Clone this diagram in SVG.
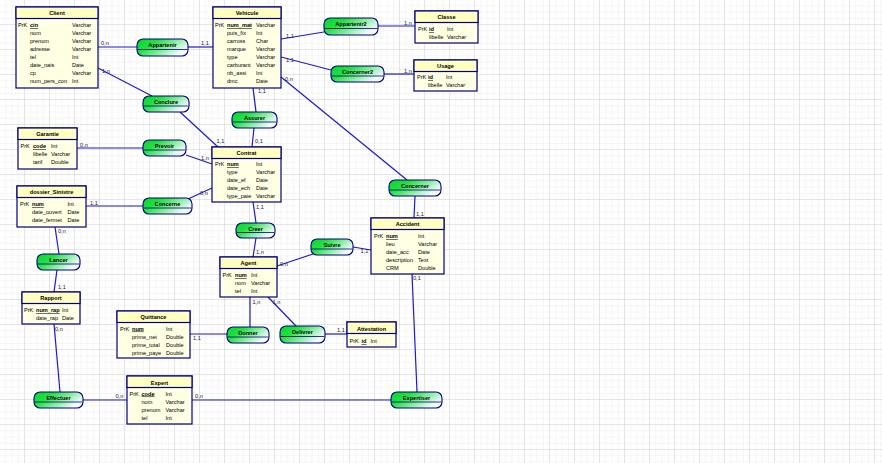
<svg xmlns="http://www.w3.org/2000/svg" width="882" height="463" viewBox="0 0 882 463">
<defs>
<pattern id="gmin" width="6.25" height="6.25" patternUnits="userSpaceOnUse">
<path d="M6.25 0V6.25M0 6.25H6.25" fill="none" stroke="#e6e6e6" stroke-width="0.8"/>
</pattern>
<pattern id="gmaj" width="25" height="25" patternUnits="userSpaceOnUse">
<path d="M25 0V25M0 25H25" fill="none" stroke="#cccccc" stroke-width="0.8"/>
</pattern>
<linearGradient id="ag" x1="0" y1="0" x2="1" y2="0.5">
<stop offset="0" stop-color="#00d82a"/>
<stop offset="0.35" stop-color="#22e040"/>
<stop offset="1" stop-color="#f4fbff"/>
</linearGradient>
<style>
.ent{fill:#ffffe4;stroke:#000080;stroke-width:1.2}
.hd{fill:#ffffc0;stroke:#000080;stroke-width:1.2}
.asc{fill:url(#ag);stroke:#000080;stroke-width:1.1}
.dv{stroke:#000080;stroke-width:0.8}
.cn line{stroke:#1a1ad0;stroke-width:1.2}
text{font-family:"Liberation Sans",Arial,sans-serif;fill:#000}
.et{font-size:5.6px;font-weight:bold;text-anchor:middle}
.an{font-size:5.6px;font-weight:bold;text-anchor:middle}
.at{font-size:5.6px}
.pk{font-size:5.6px;text-decoration:underline;font-weight:bold}
.cd{font-size:5.6px;fill:#222}
</style>
</defs>
<rect width="882" height="463" fill="#fff"/>
<rect width="882" height="463" fill="url(#gmin)"/>
<rect width="882" height="463" fill="url(#gmaj)"/>

<g id="connectors" class="cn">
<line x1="98" y1="47" x2="137" y2="47"/>
<line x1="188" y1="47" x2="213" y2="47"/>
<line x1="98" y1="68" x2="152" y2="96"/>
<line x1="180" y1="112" x2="218" y2="147"/>
<line x1="253" y1="88" x2="256" y2="112"/>
<line x1="254" y1="128" x2="252" y2="147"/>
<line x1="281" y1="39" x2="324" y2="32"/>
<line x1="378" y1="26" x2="415" y2="26"/>
<line x1="281" y1="57" x2="331" y2="70"/>
<line x1="384" y1="74" x2="414" y2="74"/>
<line x1="281" y1="77" x2="407" y2="180"/>
<line x1="415" y1="196" x2="414" y2="218"/>
<line x1="77" y1="148" x2="143" y2="148"/>
<line x1="186" y1="155" x2="212" y2="164"/>
<line x1="86" y1="206" x2="143" y2="206"/>
<line x1="188" y1="199" x2="212" y2="188"/>
<line x1="253" y1="202" x2="256" y2="223"/>
<line x1="256" y1="238" x2="253" y2="257"/>
<line x1="55" y1="227" x2="59" y2="254"/>
<line x1="57" y1="270" x2="54" y2="292"/>
<line x1="54" y1="324" x2="60" y2="392"/>
<line x1="83" y1="400" x2="127" y2="400"/>
<line x1="192" y1="400" x2="391" y2="400"/>
<line x1="417" y1="392" x2="412" y2="274"/>
<line x1="353" y1="247" x2="371" y2="250"/>
<line x1="313" y1="254" x2="277" y2="266"/>
<line x1="250" y1="297" x2="250" y2="327"/>
<line x1="268" y1="297" x2="296" y2="326"/>
<line x1="190" y1="334" x2="227" y2="334"/>
<line x1="325" y1="334" x2="347" y2="334"/>
</g>

<g id="cardinalities">
<text class="cd" x="101" y="45">0,n</text>
<text class="cd" x="201" y="45">1,1</text>
<text class="cd" x="102" y="73">1,n</text>
<text class="cd" x="286" y="38">1,1</text>
<text class="cd" x="404" y="25">1,n</text>
<text class="cd" x="286" y="61.5">1,1</text>
<text class="cd" x="404" y="73">1,n</text>
<text class="cd" x="285" y="81">0,n</text>
<text class="cd" x="258" y="93">1,1</text>
<text class="cd" x="255" y="143">0,1</text>
<text class="cd" x="216.5" y="142.5">1,1</text>
<text class="cd" x="80" y="146.5">0,n</text>
<text class="cd" x="201" y="160">1,n</text>
<text class="cd" x="90" y="205">1,1</text>
<text class="cd" x="200" y="195">0,n</text>
<text class="cd" x="256" y="208.5">1,1</text>
<text class="cd" x="256" y="254">1,n</text>
<text class="cd" x="58" y="232.5">0,n</text>
<text class="cd" x="58" y="288.5">1,1</text>
<text class="cd" x="55" y="330.5">0,n</text>
<text class="cd" x="115.5" y="398">0,n</text>
<text class="cd" x="195" y="398">0,n</text>
<text class="cd" x="413" y="280">0,1</text>
<text class="cd" x="416" y="215.5">1,1</text>
<text class="cd" x="360.5" y="252.5">1,1</text>
<text class="cd" x="280" y="265.5">0,n</text>
<text class="cd" x="252.5" y="304">1,n</text>
<text class="cd" x="272.5" y="304">1,n</text>
<text class="cd" x="193" y="339.5">1,1</text>
<text class="cd" x="337" y="332">1,1</text>
</g>

<g id="client">
<rect class="ent" x="16" y="7" width="82" height="81"/>
<rect class="hd" x="16" y="7" width="82" height="11.5"/>
<text class="et" x="57" y="15">Client</text>
<text class="at" x="18" y="27">PrK</text><text class="pk" x="30" y="27">cin</text><text class="at" x="72" y="27">Varchar</text>
<text class="at" x="30" y="35">nom</text><text class="at" x="72" y="35">Varchar</text>
<text class="at" x="30" y="43">prenom</text><text class="at" x="72" y="43">Varchar</text>
<text class="at" x="30" y="51">adresse</text><text class="at" x="72" y="51">Varchar</text>
<text class="at" x="30" y="59">tel</text><text class="at" x="72" y="59">Int</text>
<text class="at" x="30" y="67">date_nais</text><text class="at" x="72" y="67">Date</text>
<text class="at" x="30" y="75">cp</text><text class="at" x="72" y="75">Varchar</text>
<text class="at" x="30" y="83">num_pers_con</text><text class="at" x="72" y="83">Int</text>
</g>

<g id="vehicule">
<rect class="ent" x="213" y="7" width="68" height="81"/>
<rect class="hd" x="213" y="7" width="68" height="11.5"/>
<text class="et" x="247" y="15">Vehicule</text>
<text class="at" x="215" y="27">PrK</text><text class="pk" x="227" y="27">num_mat</text><text class="at" x="256" y="27">Varchar</text>
<text class="at" x="227" y="35">puis_fix</text><text class="at" x="256" y="35">Int</text>
<text class="at" x="227" y="43">carross</text><text class="at" x="256" y="43">Char</text>
<text class="at" x="227" y="51">marque</text><text class="at" x="256" y="51">Varchar</text>
<text class="at" x="227" y="59">type</text><text class="at" x="256" y="59">Varchar</text>
<text class="at" x="227" y="67">carburant</text><text class="at" x="256" y="67">Varchar</text>
<text class="at" x="227" y="75">nb_assi</text><text class="at" x="256" y="75">Int</text>
<text class="at" x="227" y="83">dmc</text><text class="at" x="256" y="83">Date</text>
</g>

<g id="classe">
<rect class="ent" x="415" y="11" width="63" height="32"/>
<rect class="hd" x="415" y="11" width="63" height="11.5"/>
<text class="et" x="446.5" y="19">Classe</text>
<text class="at" x="418" y="31">PrK</text><text class="pk" x="429" y="31">id</text><text class="at" x="447" y="31">Int</text>
<text class="at" x="429" y="39">libelle</text><text class="at" x="447" y="39">Varchar</text>
</g>

<g id="usage">
<rect class="ent" x="414" y="60" width="63" height="31"/>
<rect class="hd" x="414" y="60" width="63" height="11.5"/>
<text class="et" x="445.5" y="68">Usage</text>
<text class="at" x="417" y="79">PrK</text><text class="pk" x="428" y="79">id</text><text class="at" x="446" y="79">Int</text>
<text class="at" x="428" y="87">libelle</text><text class="at" x="446" y="87">Varchar</text>
</g>

<g id="contrat">
<rect class="ent" x="212" y="147" width="69" height="55"/>
<rect class="hd" x="212" y="147" width="69" height="11.5"/>
<text class="et" x="246.5" y="155">Contrat</text>
<text class="at" x="215" y="166">PrK</text><text class="pk" x="227" y="166">num</text><text class="at" x="256" y="166">Int</text>
<text class="at" x="227" y="174">type</text><text class="at" x="256" y="174">Varchar</text>
<text class="at" x="227" y="182">date_ef</text><text class="at" x="256" y="182">Date</text>
<text class="at" x="227" y="190">date_ech</text><text class="at" x="256" y="190">Date</text>
<text class="at" x="227" y="198">type_paie</text><text class="at" x="256" y="198">Varchar</text>
</g>

<g id="garantie">
<rect class="ent" x="18" y="128" width="59" height="41"/>
<rect class="hd" x="18" y="128" width="59" height="11.5"/>
<text class="et" x="47.5" y="136">Garantie</text>
<text class="at" x="20.5" y="148">PrK</text><text class="pk" x="33" y="148">code</text><text class="at" x="51" y="148">Int</text>
<text class="at" x="33" y="156">libelle</text><text class="at" x="51" y="156">Varchar</text>
<text class="at" x="33" y="164">tarif</text><text class="at" x="51" y="164">Double</text>
</g>

<g id="dossier_sinistre">
<rect class="ent" x="17" y="186" width="69" height="41"/>
<rect class="hd" x="17" y="186" width="69" height="11.5"/>
<text class="et" x="51.5" y="194">dossier_Sinistre</text>
<text class="at" x="20" y="206">PrK</text><text class="pk" x="32" y="206">num</text><text class="at" x="67.5" y="206">Int</text>
<text class="at" x="32" y="214">date_ouvert</text><text class="at" x="67.5" y="214">Date</text>
<text class="at" x="32" y="222">date_fermet</text><text class="at" x="67.5" y="222">Date</text>
</g>

<g id="accident">
<rect class="ent" x="371" y="218" width="73" height="56"/>
<rect class="hd" x="371" y="218" width="73" height="11.5"/>
<text class="et" x="407.5" y="226">Accident</text>
<text class="at" x="374" y="238">PrK</text><text class="pk" x="386" y="238">num</text><text class="at" x="418" y="238">Int</text>
<text class="at" x="386" y="246">lieu</text><text class="at" x="418" y="246">Varchar</text>
<text class="at" x="386" y="254">date_acc</text><text class="at" x="418" y="254">Date</text>
<text class="at" x="386" y="262">description</text><text class="at" x="418" y="262">Text</text>
<text class="at" x="386" y="270">CRM</text><text class="at" x="418" y="270">Double</text>
</g>

<g id="agent">
<rect class="ent" x="220" y="257" width="57" height="40"/>
<rect class="hd" x="220" y="257" width="57" height="11.5"/>
<text class="et" x="248.5" y="265">Agent</text>
<text class="at" x="222.5" y="277">PrK</text><text class="pk" x="235" y="277">num</text><text class="at" x="251" y="277">Int</text>
<text class="at" x="235" y="285">nom</text><text class="at" x="251" y="285">Varchar</text>
<text class="at" x="235" y="293">tel</text><text class="at" x="251" y="293">Int</text>
</g>

<g id="rapport">
<rect class="ent" x="22" y="292" width="58" height="32"/>
<rect class="hd" x="22" y="292" width="58" height="11.5"/>
<text class="et" x="51" y="300">Rapport</text>
<text class="at" x="24" y="312">PrK</text><text class="pk" x="36" y="312">num_rap</text><text class="at" x="62" y="312">Int</text>
<text class="at" x="36" y="320">date_rap</text><text class="at" x="62" y="320">Date</text>
</g>

<g id="quittance">
<rect class="ent" x="117" y="311" width="73" height="47"/>
<rect class="hd" x="117" y="311" width="73" height="11.5"/>
<text class="et" x="153.5" y="319">Quittance</text>
<text class="at" x="120" y="330.5">PrK</text><text class="pk" x="132" y="330.5">num</text><text class="at" x="166" y="330.5">Int</text>
<text class="at" x="132" y="338.5">prime_net</text><text class="at" x="166" y="338.5">Double</text>
<text class="at" x="132" y="346.5">prime_total</text><text class="at" x="166" y="346.5">Double</text>
<text class="at" x="132" y="354.5">prime_paye</text><text class="at" x="166" y="354.5">Double</text>
</g>

<g id="attestation">
<rect class="ent" x="347" y="322" width="49" height="25"/>
<rect class="hd" x="347" y="322" width="49" height="11.5"/>
<text class="et" x="371.5" y="330.5">Attestation</text>
<text class="at" x="349.5" y="343">PrK</text><text class="pk" x="361.5" y="343">id</text><text class="at" x="370.5" y="343">Int</text>
</g>

<g id="expert">
<rect class="ent" x="127" y="376" width="65" height="48"/>
<rect class="hd" x="127" y="376" width="65" height="11.5"/>
<text class="et" x="159.5" y="384.5">Expert</text>
<text class="at" x="129.5" y="395.5">PrK</text><text class="pk" x="141.5" y="395.5">code</text><text class="at" x="165.5" y="395.5">Int</text>
<text class="at" x="141.5" y="403.5">nom</text><text class="at" x="165.5" y="403.5">Varchar</text>
<text class="at" x="141.5" y="411.5">prenom</text><text class="at" x="165.5" y="411.5">Varchar</text>
<text class="at" x="141.5" y="419.5">tel</text><text class="at" x="165.5" y="419.5">Int</text>
</g>

<g id="appartenir">
<rect class="asc" x="137" y="39" width="51" height="17" rx="6"/>
<line class="dv" x1="137.5" y1="49.5" x2="187.5" y2="49.5"/>
<text class="an" x="162.5" y="47">Appartenir</text>
</g>
<g id="appartenir2">
<rect class="asc" x="324" y="18" width="54" height="17" rx="6"/>
<line class="dv" x1="324.5" y1="28.5" x2="377.5" y2="28.5"/>
<text class="an" x="351" y="26">Appartenir2</text>
</g>
<g id="concerner2">
<rect class="asc" x="331" y="66" width="53" height="16" rx="6"/>
<line class="dv" x1="331.5" y1="76" x2="383.5" y2="76"/>
<text class="an" x="357.5" y="74">Concerner2</text>
</g>
<g id="conclure">
<rect class="asc" x="143" y="96" width="46" height="16" rx="6"/>
<line class="dv" x1="143.5" y1="106" x2="188.5" y2="106"/>
<text class="an" x="166" y="104">Conclure</text>
</g>
<g id="assurer">
<rect class="asc" x="232" y="112" width="45" height="16" rx="6"/>
<line class="dv" x1="232.5" y1="122" x2="276.5" y2="122"/>
<text class="an" x="254.5" y="120">Assurer</text>
</g>
<g id="prevoir">
<rect class="asc" x="143" y="140" width="43" height="16" rx="6"/>
<line class="dv" x1="143.5" y1="150" x2="185.5" y2="150"/>
<text class="an" x="164.5" y="148">Prevoir</text>
</g>
<g id="concerner">
<rect class="asc" x="389" y="180" width="52" height="16" rx="6"/>
<line class="dv" x1="389.5" y1="190" x2="440.5" y2="190"/>
<text class="an" x="415" y="188">Concerner</text>
</g>
<g id="concerne">
<rect class="asc" x="143" y="198" width="49" height="16" rx="6"/>
<line class="dv" x1="143.5" y1="208" x2="191.5" y2="208"/>
<text class="an" x="167.5" y="206">Concerne</text>
</g>
<g id="creer">
<rect class="asc" x="236" y="223" width="39" height="15" rx="6"/>
<line class="dv" x1="236.5" y1="232.5" x2="274.5" y2="232.5"/>
<text class="an" x="255.5" y="230.5">Creer</text>
</g>
<g id="suivre">
<rect class="asc" x="311" y="239" width="42" height="16" rx="6"/>
<line class="dv" x1="311.5" y1="249" x2="352.5" y2="249"/>
<text class="an" x="332" y="247">Suivre</text>
</g>
<g id="lancer">
<rect class="asc" x="37" y="254" width="43" height="16" rx="6"/>
<line class="dv" x1="37.5" y1="264" x2="79.5" y2="264"/>
<text class="an" x="58.5" y="262">Lancer</text>
</g>
<g id="donner">
<rect class="asc" x="227" y="327" width="42" height="16" rx="6"/>
<line class="dv" x1="227.5" y1="337" x2="268.5" y2="337"/>
<text class="an" x="248" y="335">Donner</text>
</g>
<g id="delivrer">
<rect class="asc" x="280" y="326" width="45" height="17" rx="6"/>
<line class="dv" x1="280.5" y1="336.5" x2="324.5" y2="336.5"/>
<text class="an" x="302.5" y="334">Delivrer</text>
</g>
<g id="effectuer">
<rect class="asc" x="34" y="392" width="49" height="16" rx="6"/>
<line class="dv" x1="34.5" y1="402" x2="82.5" y2="402"/>
<text class="an" x="58.5" y="400">Effectuer</text>
</g>
<g id="expertiser">
<rect class="asc" x="391" y="392" width="51" height="16" rx="6"/>
<line class="dv" x1="391.5" y1="402" x2="441.5" y2="402"/>
<text class="an" x="416.5" y="400">Expertiser</text>
</g>
</svg>
